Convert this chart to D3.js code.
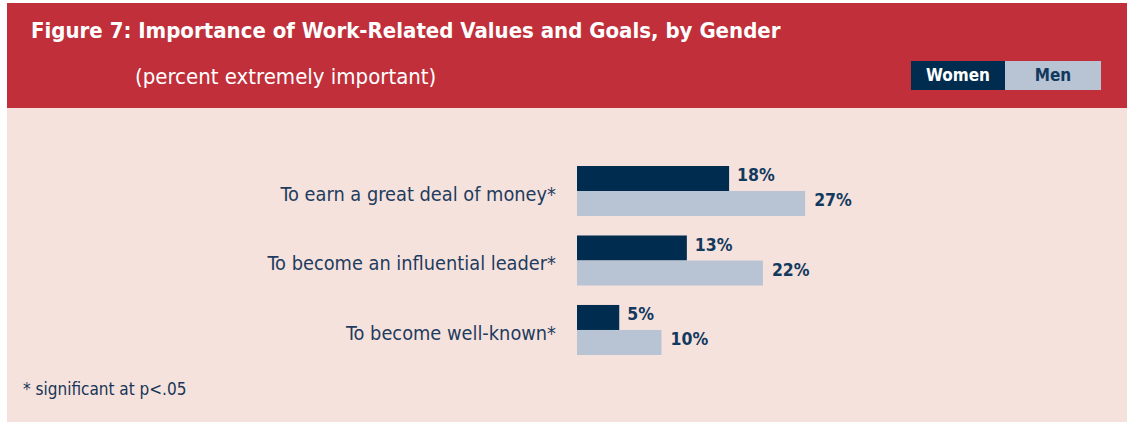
<!DOCTYPE html>
<html>
<head>
<meta charset="utf-8">
<script src="https://cdn.jsdelivr.net/npm/d3@7"></script>
<style>
  body { margin: 0; background: #fff; }
  svg text { font-family: "Liberation Sans Narrow", "DejaVu Sans Condensed", sans-serif; }
</style>
</head>
<body>
<svg id="canvas"></svg>
<script>
// chart data
let categories = ['To earn a great deal of money*', 'To become an influential leader*', 'To become well-known*']
let genders = ['Women', 'Men']
let women = [18, 13, 5]
let men = [27, 22, 10]

let width = 1127
let height = 422

let colors = { Women: '#002d4f', Men: '#b8c3d4' }

let canvas = d3.select('#canvas')
canvas.attr('width', width).attr('height', height)

// background panels
canvas.append('rect')
    .attr('x', 7).attr('y', 108)
    .attr('width', width - 7).attr('height', height - 108)
    .attr('fill', '#f6e2dd')

canvas.append('rect')
    .attr('x', 7).attr('y', 3)
    .attr('width', width - 7).attr('height', 105)
    .attr('fill', '#c02f3a')

canvas.append('text')
    .attr('x', 31).attr('y', 38)
    .attr('fill', '#fff')
    .attr('font-size', 22)
    .attr('font-weight', 'bold')
    .text('Figure 7: Importance of Work-Related Values and Goals, by Gender')

canvas.append('text')
    .attr('x', 135).attr('y', 84)
    .attr('fill', '#fff')
    .attr('font-size', 22)
    .text('(percent extremely important)')

// legend
let legend = canvas.append('g').attr('transform', 'translate(911, 61)')
genders.forEach((g, i) => {
    legend.append('rect')
        .attr('x', i * 94).attr('width', i == 0 ? 94 : 96).attr('height', 29)
        .attr('fill', colors[g])
    legend.append('text')
        .attr('x', i * 94 + (i == 0 ? 47 : 48)).attr('y', 20)
        .attr('text-anchor', 'middle')
        .attr('font-size', 17)
        .attr('font-weight', 'bold')
        .attr('fill', i == 0 ? '#fff' : '#12395e')
        .text(g)
})

// scales
let xScale = d3.scaleLinear()
    .domain([0, 30])
    .range([577, 577 + 30 * 8.45])

let yScale = d3.scaleBand()
    .domain(categories)
    .range([166, 355])
    .paddingInner(0.28)

let yInner = d3.scaleBand()
    .domain(genders)
    .range([0, yScale.bandwidth()])

let rows = categories.map((c, i) => ({ category: c, Women: women[i], Men: men[i] }))

let groups = canvas.selectAll('g.group')
    .data(rows)
    .enter()
    .append('g')
    .attr('class', 'group')
    .attr('transform', (d) => `translate(0, ${yScale(d.category)})`)

groups.append('text')
    .attr('x', 556)
    .attr('y', yScale.bandwidth() / 2 + 10)
    .attr('text-anchor', 'end')
    .attr('font-size', 19.8)
    .attr('fill', '#1e3c5e')
    .text((d) => d.category)

groups.selectAll('rect')
    .data((d) => genders.map((g) => ({ gender: g, value: d[g] })))
    .enter()
    .append('rect')
    .attr('x', xScale(0))
    .attr('y', (d) => yInner(d.gender))
    .attr('width', (d) => xScale(d.value) - xScale(0))
    .attr('height', yInner.bandwidth())
    .attr('fill', (d) => colors[d.gender])

groups.selectAll('text.value')
    .data((d) => genders.map((g) => ({ gender: g, value: d[g] })))
    .enter()
    .append('text')
    .attr('class', 'value')
    .attr('x', (d) => xScale(d.value) + (d.gender == 'Women' ? 8 : 9))
    .attr('y', (d) => yInner(d.gender) + yInner.bandwidth() / 2 + 2.5)
    .attr('font-size', 17.5)
    .attr('font-weight', 'bold')
    .attr('fill', '#12395e')
    .text((d) => d.value + '%')

canvas.append('text')
    .attr('x', 23).attr('y', 395)
    .attr('font-size', 17)
    .attr('fill', '#173556')
    .text('* significant at p<.05')
</script>
</body>
</html>
